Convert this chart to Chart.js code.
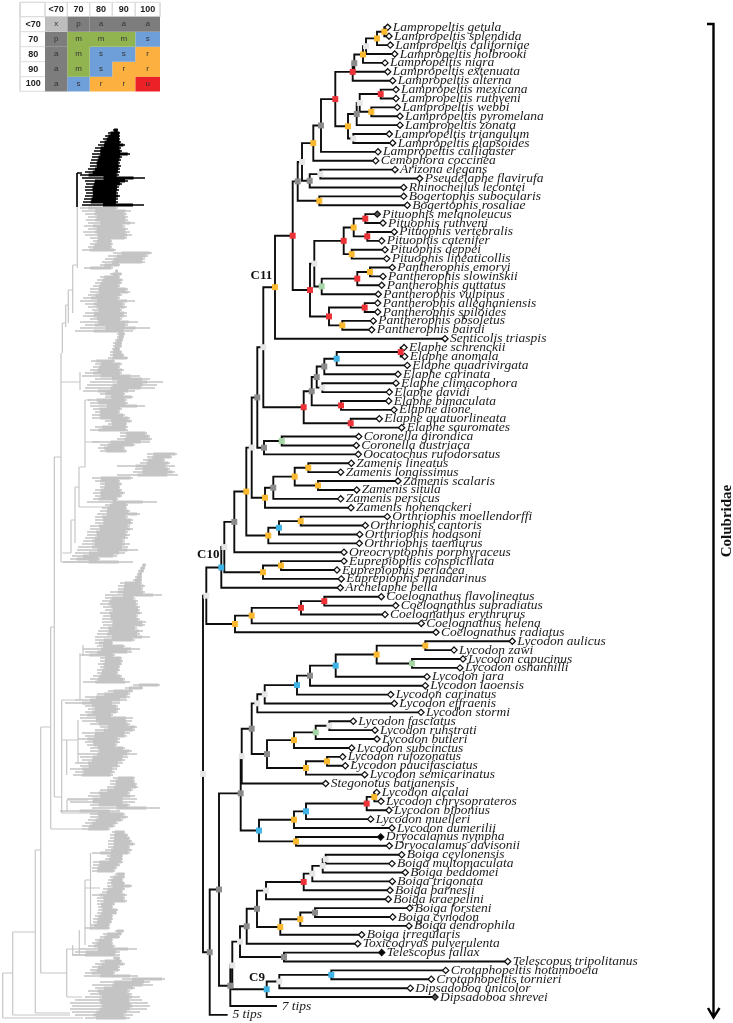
<!DOCTYPE html>
<html><head><meta charset="utf-8">
<style>html,body{margin:0;padding:0;background:#fff}canvas{display:block}</style>
<script src="https://cdn.jsdelivr.net/npm/chart.js@4"></script>
</head><body><canvas id="c" width="733" height="1023"></canvas>
<script>
const tipNames=["Lampropeltis getula","Lampropeltis splendida","Lampropeltis californiae","Lampropeltis holbrooki","Lampropeltis nigra","Lampropeltis extenuata","Lampropeltis alterna","Lampropeltis mexicana","Lampropeltis ruthveni","Lampropeltis webbi","Lampropeltis pyromelana","Lampropeltis zonata","Lampropeltis triangulum","Lampropeltis elapsoides","Lampropeltis calligaster","Cemophora coccinea","Arizona elegans","Pseudelaphe flavirufa","Rhinocheilus lecontei","Bogertophis subocularis","Bogertophis rosaliae","Pituophis melanoleucus","Pituophis ruthveni","Pituophis vertebralis","Pituophis catenifer","Pituophis deppei","Pituophis lineaticollis","Pantherophis emoryi","Pantherophis slowinskii","Pantherophis guttatus","Pantherophis vulpinus","Pantherophis alleghaniensis","Pantherophis spiloides","Pantherophis obsoletus","Pantherophis bairdi","Senticolis triaspis","Elaphe schrenckii","Elaphe anomala","Elaphe quadrivirgata","Elaphe carinata","Elaphe climacophora","Elaphe davidi","Elaphe bimaculata","Elaphe dione","Elaphe quatuorlineata","Elaphe sauromates","Coronella girondica","Coronella austriaca","Oocatochus rufodorsatus","Zamenis lineatus","Zamenis longissimus","Zamenis scalaris","Zamenis situla","Zamenis persicus","Zamenis hohenackeri","Orthriophis moellendorffi","Orthriophis cantoris","Orthriophis hodgsoni","Orthriophis taeniurus","Oreocryptophis porphyraceus","Euprepiophis conspicillata","Euprepiophis perlacea","Euprepiophis mandarinus","Archelaphe bella","Coelognathus flavolineatus","Coelognathus subradiatus","Coelognathus erythrurus","Coelognathus helena","Coelognathus radiatus","Lycodon aulicus","Lycodon zawi","Lycodon capucinus","Lycodon oshanhilli","Lycodon jara","Lycodon laoensis","Lycodon carinatus","Lycodon effraenis","Lycodon stormi","Lycodon fasciatus","Lycodon ruhstrati","Lycodon butleri","Lycodon subcinctus","Lycodon rufozonatus","Lycodon paucifasciatus","Lycodon semicarinatus","Stegonotus batjanensis","Lycodon alcalai","Lycodon chrysoprateros","Lycodon bibonius","Lycodon muelleri","Lycodon dumerilii","Dryocalamus nympha","Dryocalamus davisonii","Boiga ceylonensis","Boiga multomaculata","Boiga beddomei","Boiga trigonata","Boiga barnesii","Boiga kraepelini","Boiga forsteni","Boiga cynodon","Boiga dendrophila","Boiga irregularis","Toxicodryas pulverulenta","Telescopus fallax","Telescopus tripolitanus","Crotaphopeltis hotamboeia","Crotaphopeltis tornieri","Dipsadoboa unicolor","Dipsadoboa shrevei","7 tips","5 tips"];
const tipX=[387.7,389,390.3,394.7,385,387.7,392.7,396,396,397.3,400,400,389.3,392.7,378,375.7,395,419.7,403.7,403.7,407.3,377.3,383,394.3,381.7,385,386.7,392.3,383,381.7,378.3,377.7,377.7,373.3,371.7,445,404,404.7,407.3,398,396,389.3,388.7,394,379.3,401.7,358.7,356.3,358.3,351.3,340.7,398,356.7,340.7,351,387.3,365.3,359.7,359.3,344,344,337,341.3,340.3,381.3,395.7,385,421.3,436,512.3,454,463,460,427,425.3,390.7,394.3,421,353.3,375,377,351.7,342.7,345.3,364.7,325.7,376.7,381,389,370.7,392,380.7,389.3,401.7,392,405.3,392.3,390,388.3,409.7,392.7,409,361.7,357.7,381.7,507.7,445.7,431.3,410.3,435,276,226.7];
const tipFill={21:"#555555",91:"#000000",104:"#000000",109:"#555555"};
const nodeX=[384.3,377,366,363,354.3,352.7,380.7,371.3,359.7,356.7,353.3,348,335.3,321,313.3,320.3,309.7,302,319.3,297.7,365.3,367.3,353.7,351.7,343.7,370,357.3,321.7,314.3,364.7,342.3,329,310,292.7,275,400.7,336.7,324.3,322.3,316.7,341,311.7,350.7,303.7,263.3,281.7,264,257.3,308.3,318,294.7,273.3,265,251.7,300.7,279,268.3,246.3,234.3,281,263,224.3,221.3,324.3,301,251.7,235,206.3,425.3,412,376.7,335.7,310,297,264.7,257.3,329.3,315.7,294,327,306,267,251.7,241.7,374.3,366.7,306,294,296,259,240.7,325.7,322.7,312.3,303.7,266,315,300.3,280.3,257,246.7,284,240,331.3,279.3,266.7,232.3,230.3,219,209.7,203];
const nodeSupport=["r","r","x","r","a","u","u","r","x","a","x","r","u","a","r","x","a","x","r","a","u","u","r","r","u","r","u","m","x","u","r","u","u","u","r","u","s","a","x","a","u","a","u","u","x","m","a","a","r","r","r","a","r","x","r","s","r","r","a","r","r","x","s","u","u","r","r","x","r","m","r","s","a","s","x","x","x","m","r","r","r","a","a","x","r","u","s","r","r","s","a","x","x","x","u","x","a","r","r","a","a","a","x","s","x","s","x","a","a","a","x"];
const nodeKids=[[0,1],[1000,2],[1001,3],[1002,4],[1003,5],[1004,6],[7,8],[9,10],[1006,1007],[1008,11],[12,13],[1009,1010],[1005,1011],[1012,14],[1013,15],[16,17],[1015,18],[1014,1016],[19,20],[1017,1018],[21,22],[23,24],[1020,1021],[25,26],[1022,1023],[27,28],[1025,29],[1026,30],[1024,1027],[31,32],[33,34],[1029,1030],[1028,1031],[1019,1032],[1033,35],[36,37],[1035,38],[1036,39],[40,41],[1037,1038],[42,43],[1039,1040],[44,45],[1041,1042],[1034,1043],[46,47],[1045,48],[1044,1046],[49,50],[51,52],[1048,1049],[1050,53],[1051,54],[1047,1052],[55,56],[1054,57],[1055,58],[1053,1056],[1057,59],[60,61],[1059,62],[1058,1060],[1061,63],[64,65],[1063,66],[1064,67],[1065,68],[1062,1066],[69,70],[71,72],[1068,1069],[1070,73],[1071,74],[1072,75],[1073,76],[1074,77],[78,79],[1076,80],[1077,81],[82,83],[1079,84],[1078,1080],[1075,1081],[1082,85],[86,87],[1084,88],[1085,89],[1086,90],[91,92],[1087,1088],[1083,1089],[93,94],[1091,95],[1092,96],[1093,97],[1094,98],[99,100],[1096,101],[1097,102],[1095,1098],[1099,103],[104,105],[1100,1101],[106,107],[1103,108],[1104,109],[1102,1105],[1106,110],[1090,1107],[1108,111],[1067,1109]];
const cladeLabels=["C11","C10","C9"],cladeX=[250.5,197,249],cladeY=[275.7,555,977.7];
const familyLabel="Colubridae";
const bracketX=[707,713.5,713.5],bracketY=[24,24,1017];
const arrowX=[708,713.5,719.5],arrowY=[1008,1017.5,1008];
const tableHead=["<70","70","80","90","100"];
const tableCells=[["x","p","a","a","a"],["p","m","m","m","s"],["a","m","s","s","r"],["a","m","s","r","r"],["a","s","r","r","u"]];
const tableColX=[20,45,67.3,89.7,112.3,135.3,160];
const tableRowY=[2.3,16.7,31.7,46.7,61.7,76.7,91.3];
const overviewBlackRows=[[130,113,118],[133,108,120],[136,105,120],[139,103,120],[142,100,121],[145,98,125],[148,95,121],[151,94,122],[154,92,130],[157,92,122],[160,91,121],[163,90,120],[166,90,121],[169,88,120],[172,85,120],[175,80,119],[178,82,145],[181,85,128],[184,86,122],[187,85,119],[190,85,119],[193,86,118],[196,85,120],[199,84,118],[202,83,118],[205,82,144]];
const overviewGreyRows=[[208,80,118],[211,82,131],[214,85,127],[217,88,128],[220,86,128],[223,88,135],[226,84,125],[229,88,128],[232,83,130],[235,85,132],[238,90,127],[241,93,112],[244,90,113],[247,88,112],[250,82,116],[253,113,152],[256,108,148],[259,105,145],[262,102,145],[265,100,120],[268,84,113],[271,115,118],[274,110,122],[277,100,120],[280,97,123],[283,95,122],[286,93,120],[289,90,128],[292,90,130],[295,88,122],[298,83,120],[301,80,135],[304,85,125],[307,88,127],[310,92,122],[313,85,127],[316,83,127],[319,90,122],[322,80,138],[325,85,128],[328,80,150],[331,75,133],[334,117,125],[337,117,124],[340,115,123],[343,113,122],[346,113,122],[349,112,120],[352,110,122],[355,110,124],[358,108,128],[361,91,115],[364,95,122],[367,93,120],[370,90,124],[373,85,122],[376,82,140],[379,95,150],[382,90,163],[385,87,157],[388,85,155],[391,83,135],[394,100,125],[397,105,133],[400,88,127],[403,90,128],[406,90,145],[409,93,122],[412,95,120],[415,92,125],[418,92,130],[421,105,132],[424,108,127],[427,95,128],[430,90,128],[433,120,147],[436,120,150],[439,117,152],[442,92,150],[445,100,135],[448,98,125],[451,100,127],[454,147,177],[457,147,172],[460,143,165],[463,140,170],[466,117,175],[469,135,170],[472,133,175],[475,117,178],[478,92,133],[481,95,120],[484,100,122],[487,100,120],[490,95,122],[493,93,125],[496,95,122],[499,93,118],[502,87,157],[505,105,128],[508,102,127],[511,100,130],[514,97,140],[517,95,128],[520,95,133],[523,95,133],[526,90,130],[529,90,133],[532,87,128],[535,87,130],[538,85,128],[541,83,125],[544,82,130],[547,78,128],[550,77,138],[553,75,125],[556,72,117],[559,70,100],[562,63,133],[565,142,146],[568,140,145],[571,138,144],[574,137,142],[577,135,142],[580,133,142],[583,120,142],[586,118,145],[589,118,143],[592,110,145],[595,105,162],[598,105,135],[601,102,138],[604,100,138],[607,103,140],[610,105,140],[613,100,142],[616,103,138],[619,102,140],[622,102,146],[625,103,145],[628,100,137],[631,98,143],[634,97,140],[637,95,150],[640,95,135],[643,95,113],[646,97,125],[649,83,140],[652,85,132],[655,82,115],[658,100,122],[661,100,123],[664,98,122],[667,100,120],[670,97,120],[673,97,118],[676,93,122],[679,90,125],[682,83,130],[685,133,160],[688,125,143],[691,108,133],[694,97,130],[697,85,130],[700,75,127],[703,65,120],[706,85,118],[709,88,120],[712,85,118],[715,80,113],[718,80,133],[721,82,132],[724,90,130],[727,100,137],[730,95,135],[733,82,130],[736,85,127],[739,78,120],[742,85,120],[745,87,117],[748,90,125],[751,90,132],[754,78,137],[757,80,128],[760,82,125],[763,75,123],[766,80,120],[769,70,117],[772,75,115],[775,73,113],[778,113,135],[781,110,135],[784,110,137],[787,107,138],[790,100,133],[793,90,130],[796,88,135],[799,67,137],[802,70,135],[805,90,130],[808,92,160],[811,60,120],[814,90,125],[817,90,128],[820,88,123],[823,85,118],[826,82,115],[829,82,110],[832,112,125],[835,110,128],[838,110,130],[841,108,132],[844,108,135],[847,108,130],[850,105,132],[853,92,130],[856,107,123],[859,105,123],[862,93,123],[865,93,120],[868,92,117],[871,92,115],[874,115,125],[877,110,125],[880,108,123],[883,107,125],[886,107,132],[889,103,125],[892,102,123],[895,92,127],[898,97,125],[901,97,127],[904,97,115],[907,98,113],[910,98,118],[913,97,117],[916,95,113],[919,93,113],[922,93,112],[925,90,110],[928,85,110],[931,115,124],[934,103,122],[937,100,120],[940,95,113],[943,92,113],[946,88,115],[949,80,137],[952,75,120],[955,72,120],[958,113,120],[961,100,122],[964,95,125],[967,92,120],[970,90,120],[973,85,115],[976,84,138],[979,122,165],[982,100,150],[985,92,153],[988,95,135],[991,88,130],[994,90,132],[997,85,140],[1000,75,142],[1003,70,148],[1006,72,150],[1009,70,147],[1012,72,140],[1015,75,133],[1018,85,130]];
const overviewBranches=[[77.3,173,77.3,268],[72.7,265,72.7,313],[72.7,265,77.3,265],[68.3,290,68.3,323],[68.3,290,72.7,290],[65.7,305,65.7,327],[65.7,305,68.3,305],[62.3,323,62.3,353],[62.3,323,65.7,323],[61,353,61,562],[61,382,80,382],[80,372,80,390],[54.3,457,61,457],[54.3,457,54.3,797],[50.7,627,54.3,627],[50.7,627,50.7,829],[50.7,829,82,829],[40.7,727,50.7,727],[40.7,727,40.7,973],[40.7,973,66.7,973],[66.7,949,66.7,997],[66.7,949,80,949],[66.7,997,82,997],[35.3,850,40.7,850],[35.3,850,35.3,1013],[35.3,1013,70,1013],[12.7,932,35.3,932],[12.7,932,12.7,1015],[12.7,1015,70,1015],[2.7,973,12.7,973],[2.7,973,2.7,1018],[2.7,1018,83,1018],[54.3,797,61.7,797],[61.7,700,61.7,813],[61.7,700,75,700],[61.7,813,120,813],[80,653,80,700],[83,645,83,656],[80,655,83,655],[66.7,740,66.7,775],[61.7,740,78,740],[78,720,78,763],[67,800,67,811],[67,800,88,800],[85,400,85,467],[85,400,90,400],[85,442,100,442],[79,467,79,507],[79,467,85,467],[75,487,75,543],[75,487,79,487],[79,507,125,507],[71,520,71,553],[71,520,75,520],[62.3,553,71,553],[61,562,110,562],[90.5,853,90.5,930],[85,880,85,945],[85,888,100,888],[85,880,90.5,880],[79.3,930,79.3,955],[72.7,945,72.7,955],[72.7,955,90,955]];

const rowTop=27.3,rowStep=8.897;
const tipY=tipNames.map((_,i)=>rowTop+i*rowStep);
const nodeY=[];
const posY=r=>r>=1000?nodeY[r-1000]:tipY[r];
const posX=r=>r>=1000?nodeX[r-1000]:tipX[r];
nodeKids.forEach((k,i)=>{nodeY[i]=(posY(k[0])+posY(k[1]))/2;});
const GAP={x:NaN,y:NaN};
const treeLines=[];
nodeKids.forEach((k,i)=>{
  treeLines.push({x:posX(k[0]),y:posY(k[0])},{x:nodeX[i],y:posY(k[0])},{x:nodeX[i],y:posY(k[1])},{x:posX(k[1]),y:posY(k[1])},GAP);
});
const rowsToLine=rows=>rows.flatMap(r=>[{x:r[1],y:r[0]},{x:r[2],y:r[0]},GAP]);
const rowsToCore=rows=>rows.flatMap(r=>{const w=r[2]-r[1];const core=Math.min(w*0.72,30);const c=r[1]+w*0.58;return [{x:c-core/2,y:r[0]},{x:c+core/2,y:r[0]},GAP];});
const nodeColors={u:"#ec3237",r:"#fbb92f",s:"#3db3e6",m:"#a6d5a5",a:"#8b8b8b",x:"#e6e6e6"};
const cellColors={x:"#bdbdbd",p:"#7d7d7d",a:"#7d7d7d",m:"#92b450",s:"#6f9fd9",r:"#fbb040",u:"#ec2027"};
const cellDatasets=Object.keys(cellColors).map(code=>{
  const data=[];
  tableCells.forEach((row,r)=>row.forEach((c,k)=>{
    if(c===code){const y=(tableRowY[r+1]+tableRowY[r+2])/2;data.push({x:tableColX[k+1],y},{x:tableColX[k+2],y},GAP);}
  }));
  return {data,showLine:true,borderColor:cellColors[code],borderWidth:15,pointRadius:0,order:5,borderCapStyle:"butt"};
});
const gridData=[];
tableColX.forEach(x=>gridData.push({x,y:tableRowY[0]},{x,y:tableRowY[1]},GAP));
gridData.push({x:tableColX[0],y:tableRowY[0]},{x:tableColX[6],y:tableRowY[0]},GAP,{x:tableColX[0],y:tableRowY[1]},{x:tableColX[6],y:tableRowY[1]},GAP);
tableRowY.forEach(y=>gridData.push({x:tableColX[0],y},{x:tableColX[1],y},GAP));
gridData.push({x:tableColX[0],y:tableRowY[0]},{x:tableColX[0],y:tableRowY[6]},GAP);

const textPlugin={id:"texts",afterDatasetsDraw(chart){
  const {ctx,scales:{x,y}}=chart;
  ctx.save();
  ctx.textBaseline="middle";ctx.textAlign="left";ctx.fillStyle="#1a1a1a";
  ctx.font="italic 13.5px 'Liberation Serif'";
  tipNames.forEach((n,i)=>{
    const off=i>=110?5.7:5;
    ctx.fillText(n,x.getPixelForValue(tipX[i]+off),y.getPixelForValue(tipY[i]));
  });
  ctx.fillStyle="#111";ctx.font="bold 13px 'Liberation Serif'";
  cladeLabels.forEach((n,i)=>ctx.fillText(n,x.getPixelForValue(cladeX[i]),y.getPixelForValue(cladeY[i])));
  ctx.save();
  ctx.translate(x.getPixelForValue(727),y.getPixelForValue(521));
  ctx.rotate(-Math.PI/2);ctx.textAlign="center";ctx.font="bold 15px 'Liberation Serif'";
  ctx.fillText(familyLabel,0,0);ctx.restore();
  ctx.textAlign="center";
  ctx.font="bold 9px 'Liberation Sans'";ctx.fillStyle="#222";
  tableHead.forEach((h,i)=>{
    ctx.fillText(h,x.getPixelForValue((tableColX[i+1]+tableColX[i+2])/2),y.getPixelForValue((tableRowY[0]+tableRowY[1])/2+.3));
    ctx.fillText(h,x.getPixelForValue((tableColX[0]+tableColX[1])/2+.7),y.getPixelForValue((tableRowY[i+1]+tableRowY[i+2])/2));
  });
  ctx.font="8px 'Liberation Sans'";ctx.fillStyle="#333";
  tableCells.forEach((row,r)=>row.forEach((c,k)=>{
    ctx.fillText(c,x.getPixelForValue((tableColX[k+1]+tableColX[k+2])/2),y.getPixelForValue((tableRowY[r+1]+tableRowY[r+2])/2));
  }));
  ctx.restore();
}};

new Chart(document.getElementById("c"),{
  type:"scatter",
  data:{datasets:[
    {data:nodeX.map((v,i)=>({x:v,y:nodeY[i]})),pointStyle:"rect",pointRadius:4.2,pointBorderWidth:0,pointBackgroundColor:nodeSupport.map(s=>nodeColors[s]),order:0},
    {data:tipX.slice(0,110).map((v,i)=>({x:v,y:tipY[i]})),pointStyle:"rectRot",pointRadius:3.1,pointBorderWidth:1.25,pointBorderColor:"#111",pointBackgroundColor:tipX.slice(0,110).map((_,i)=>tipFill[i]||"#fff"),order:1},
    {data:treeLines,showLine:true,borderColor:"#0d0d0d",borderWidth:1.9,pointRadius:0,order:2,borderCapStyle:"square"},
    {data:[bracketX.map((v,i)=>({x:v,y:bracketY[i]})),GAP,arrowX.map((v,i)=>({x:v,y:arrowY[i]}))].flat(),showLine:true,borderColor:"#000",borderWidth:2.4,pointRadius:0,order:2},
    {data:rowsToCore(overviewBlackRows),showLine:true,borderColor:"#000",borderWidth:3.1,pointRadius:0,order:3},
    {data:rowsToLine(overviewBlackRows),showLine:true,borderColor:"#000",borderWidth:1.5,pointRadius:0,order:3},
    {data:[[77,173,77,207],[77,173,82,173]].flatMap(s=>[{x:s[0],y:s[1]},{x:s[2],y:s[3]},GAP]),showLine:true,borderColor:"#000",borderWidth:1.6,pointRadius:0,order:3},
    {data:rowsToCore(overviewGreyRows),showLine:true,borderColor:"#c4c4c4",borderWidth:3.1,pointRadius:0,order:4},
    {data:rowsToLine(overviewGreyRows),showLine:true,borderColor:"#c4c4c4",borderWidth:1.4,pointRadius:0,order:4},
    {data:overviewBranches.flatMap(s=>[{x:s[0],y:s[1]},{x:s[2],y:s[3]},GAP]),showLine:true,borderColor:"#c6c6c6",borderWidth:1.2,pointRadius:0,order:4},
    ...cellDatasets,
    {data:gridData,showLine:true,borderColor:"#dcdcdc",borderWidth:1,pointRadius:0,order:6}
  ]},
  options:{
    responsive:false,animation:false,events:[],
    layout:{padding:0,autoPadding:false},
    plugins:{legend:{display:false},tooltip:{enabled:false},title:{display:false}},
    scales:{
      x:{type:"linear",min:0,max:733,display:false},
      y:{type:"linear",min:0,max:1023,reverse:true,display:false}
    }
  },
  plugins:[textPlugin]
});
</script></body></html>
